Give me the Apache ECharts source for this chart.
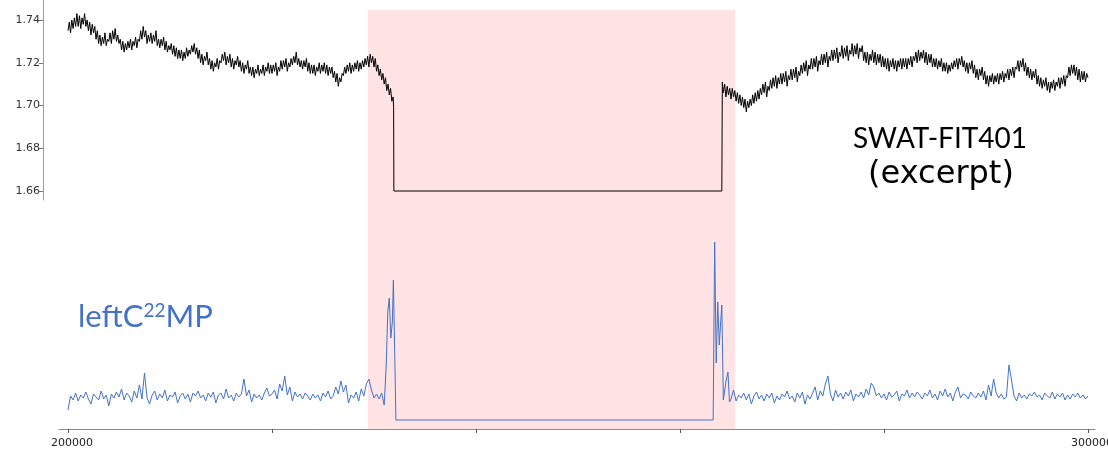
<!DOCTYPE html>
<html>
<head>
<meta charset="utf-8">
<script src="https://cdn.jsdelivr.net/npm/echarts@6/dist/echarts.min.js"></script>
<style>
html,body{margin:0;padding:0;background:#fff;}
#chart{width:1108px;height:456px;}
</style>
</head>
<body>
<div id="chart"></div>
<script>
// ---- data ----
const FIT_STEP = 125;
const FIT_PRE_START = 200000;
const fitPre = [
1.735,1.739,1.734,1.740,1.736,1.741,1.737,1.743, 1.737,1.742,1.736,1.741,1.738,1.743,1.737,1.740,
1.735,1.739,1.733,1.738,1.734,1.737,1.731,1.735, 1.729,1.733,1.728,1.732,1.729,1.734,1.728,1.731,
1.730,1.734,1.729,1.735,1.731,1.736,1.730,1.733, 1.729,1.731,1.726,1.730,1.725,1.729,1.726,1.730,
1.727,1.731,1.726,1.730,1.728,1.732,1.727,1.731, 1.730,1.735,1.731,1.737,1.732,1.735,1.729,1.733,
1.730,1.734,1.729,1.733,1.730,1.735,1.728,1.731, 1.727,1.731,1.728,1.732,1.726,1.730,1.725,1.728,
1.726,1.729,1.724,1.728,1.723,1.727,1.722,1.726, 1.722,1.726,1.721,1.725,1.722,1.727,1.723,1.726,
1.724,1.728,1.725,1.729,1.724,1.727,1.722,1.726, 1.720,1.724,1.719,1.723,1.721,1.725,1.719,1.722,
1.717,1.721,1.716,1.720,1.718,1.722,1.717,1.721, 1.720,1.724,1.721,1.725,1.719,1.723,1.720,1.724,
1.718,1.722,1.717,1.721,1.719,1.723,1.718,1.721, 1.716,1.720,1.715,1.719,1.717,1.721,1.715,1.718,
1.714,1.718,1.713,1.717,1.715,1.719,1.714,1.717, 1.715,1.719,1.714,1.718,1.716,1.720,1.715,1.719,
1.715,1.719,1.716,1.720,1.714,1.718,1.716,1.721, 1.717,1.721,1.718,1.722,1.716,1.720,1.718,1.722,
1.719,1.723,1.720,1.725,1.719,1.722,1.718,1.721, 1.717,1.721,1.718,1.722,1.716,1.720,1.715,1.719,
1.715,1.719,1.714,1.718,1.716,1.720,1.715,1.719, 1.716,1.720,1.715,1.719,1.714,1.718,1.715,1.718,
1.713,1.716,1.711,1.715,1.709,1.713,1.711,1.715, 1.714,1.718,1.715,1.719,1.716,1.720,1.715,1.719,
1.716,1.720,1.717,1.721,1.716,1.720,1.717,1.721, 1.718,1.722,1.719,1.723,1.718,1.724,1.720,1.723,
1.718,1.722,1.716,1.719,1.714,1.717,1.712,1.715, 1.710,1.713,1.707,1.710,1.705,1.708,1.702,1.704
];
const fitGap = [[231925,1.699],[231950,1.66],[264100,1.66],[264150,1.711]];
const FIT_POST_START = 264250;
const fitPost = [
1.706,1.710,1.704,1.709,1.705,1.708,
1.703,1.708,1.704,1.707,1.702,1.706,1.701,1.705, 1.700,1.704,1.699,1.703,1.697,1.702,1.699,1.703,
1.700,1.705,1.701,1.706,1.702,1.707,1.703,1.708, 1.705,1.710,1.706,1.711,1.704,1.709,1.707,1.712,
1.708,1.713,1.709,1.714,1.708,1.713,1.710,1.715, 1.710,1.715,1.711,1.716,1.709,1.714,1.712,1.717,
1.712,1.717,1.713,1.718,1.711,1.716,1.714,1.719, 1.715,1.720,1.716,1.721,1.714,1.719,1.717,1.722,
1.717,1.722,1.718,1.723,1.716,1.721,1.719,1.724, 1.719,1.724,1.720,1.725,1.718,1.723,1.721,1.726,
1.721,1.726,1.722,1.727,1.720,1.725,1.723,1.728, 1.722,1.727,1.723,1.728,1.721,1.726,1.724,1.729,
1.723,1.728,1.724,1.729,1.722,1.727,1.725,1.728, 1.721,1.725,1.720,1.725,1.719,1.724,1.721,1.726,
1.720,1.725,1.719,1.724,1.720,1.724,1.718,1.723, 1.718,1.722,1.717,1.722,1.716,1.721,1.718,1.722,
1.717,1.721,1.716,1.721,1.718,1.722,1.717,1.722, 1.718,1.722,1.717,1.722,1.719,1.723,1.718,1.723,
1.721,1.725,1.720,1.726,1.721,1.725,1.722,1.726, 1.720,1.725,1.719,1.724,1.720,1.724,1.718,1.722,
1.718,1.722,1.717,1.721,1.718,1.722,1.716,1.720, 1.716,1.720,1.715,1.719,1.716,1.720,1.717,1.721,
1.718,1.722,1.717,1.722,1.719,1.723,1.718,1.721, 1.716,1.720,1.715,1.720,1.717,1.721,1.715,1.719,
1.713,1.717,1.712,1.717,1.714,1.718,1.712,1.716, 1.710,1.714,1.709,1.714,1.711,1.715,1.710,1.714,
1.711,1.715,1.710,1.715,1.712,1.716,1.711,1.715, 1.713,1.717,1.712,1.717,1.714,1.718,1.713,1.718,
1.717,1.721,1.716,1.721,1.718,1.722,1.716,1.720, 1.714,1.718,1.713,1.717,1.712,1.716,1.713,1.717,
1.710,1.714,1.709,1.713,1.708,1.712,1.709,1.713, 1.707,1.711,1.706,1.711,1.708,1.712,1.707,1.711,
1.709,1.713,1.708,1.713,1.710,1.714,1.709,1.714, 1.713,1.718,1.714,1.719,1.715,1.719,1.714,1.718,
1.712,1.717,1.711,1.716,1.712,1.716,1.711,1.715,
1.713
];

const MP_STEP = 250;
const MP_PRE_START = 200000;
const mpPre = [
0.10,0.24,0.20,0.27, 0.19,0.25,0.22,0.28, 0.21,0.16,0.26,0.23, 0.20,0.29,0.21,0.25,
0.14,0.26,0.22,0.28, 0.23,0.31,0.20,0.27, 0.24,0.18,0.29,0.22, 0.35,0.21,0.47,0.22,
0.16,0.25,0.29,0.20, 0.26,0.22,0.30,0.19, 0.25,0.23,0.28,0.17, 0.24,0.27,0.21,0.26,
0.18,0.27,0.24,0.29, 0.22,0.25,0.19,0.27, 0.23,0.28,0.17,0.25, 0.27,0.21,0.31,0.22,
0.25,0.19,0.27,0.23, 0.26,0.41,0.24,0.30, 0.18,0.26,0.22,0.25, 0.20,0.27,0.32,0.24,
0.26,0.30,0.21,0.36, 0.29,0.44,0.25,0.33, 0.19,0.28,0.23,0.26, 0.21,0.27,0.24,0.20,
0.26,0.22,0.25,0.19, 0.27,0.23,0.29,0.21, 0.24,0.33,0.26,0.39, 0.28,0.35,0.17,0.25,
0.22,0.28,0.19,0.31, 0.24,0.36,0.41,0.30
];
const mpAnomaly = [
[230000,0.22],[230250,0.26],[230500,0.21],[230750,0.27],[231000,0.15],[231200,0.55],
[231350,1.08],[231500,1.22],[231650,0.82],[231800,0.98],[231900,1.40],[232150,0.0],
[263250,0.0],[263400,1.78],[263550,0.57],[263700,1.18],[263850,0.75],[264000,1.0],
[264100,1.15],[264250,0.20],[264500,0.38],[264700,0.48],[264850,0.18]
];
const MP_POST_START = 265000;
const mpPost = [
0.21,0.30,0.19,0.25, 0.22,0.27,0.20,0.26, 0.16,0.24,0.28,0.21, 0.25,0.19,0.26,0.22,
0.27,0.17,0.24,0.20, 0.26,0.23,0.29,0.21, 0.24,0.18,0.27,0.22, 0.28,0.16,0.25,0.21,
0.27,0.33,0.20,0.29, 0.24,0.36,0.44,0.26, 0.19,0.30,0.23,0.27, 0.21,0.28,0.24,0.30,
0.19,0.26,0.23,0.28, 0.22,0.31,0.25,0.37, 0.33,0.24,0.27,0.22, 0.26,0.20,0.28,0.23,
0.25,0.29,0.19,0.26, 0.24,0.30,0.22,0.27, 0.23,0.28,0.25,0.21, 0.27,0.24,0.30,0.22,
0.26,0.20,0.29,0.24, 0.31,0.23,0.27,0.19, 0.28,0.33,0.22,0.26, 0.25,0.21,0.28,0.24,
0.22,0.27,0.23,0.29, 0.20,0.35,0.24,0.41, 0.27,0.22,0.26,0.21, 0.23,0.55,0.40,0.24,
0.19,0.27,0.22,0.25, 0.21,0.26,0.24,0.28, 0.23,0.25,0.20,0.27, 0.24,0.22,0.28,0.21,
0.26,0.23,0.27,0.20, 0.25,0.21,0.26,0.23, 0.27,0.22,0.25,0.21,
0.24
];

const anomalyRange = [229400, 265400];
const xTicks = [200000, 220000, 240000, 260000, 280000, 300000];
const xLabels = [200000, 300000];
const yTicks = [1.66, 1.68, 1.70, 1.72, 1.74];

// ---- build series data ----
function seq(start, step, vals) { return vals.map((v, i) => [start + i * step, v]); }
const fitData = seq(FIT_PRE_START, FIT_STEP, fitPre).concat(fitGap, seq(FIT_POST_START, FIT_STEP, fitPost));
const mpData = seq(MP_PRE_START, MP_STEP, mpPre).concat(mpAnomaly, seq(MP_POST_START, MP_STEP, mpPost));

const X_MIN = 199118, X_MAX = 300686;
const gridH = { left: 59, right: 13, outerBoundsMode: 'none', containLabel: false };

const chart = echarts.init(document.getElementById('chart'), null, { renderer: 'canvas' });
chart.setOption({
  animation: false,
  backgroundColor: '#ffffff',
  grid: [
    Object.assign({ top: 0, height: 200 }, gridH),
    Object.assign({ top: 220, bottom: 27 }, gridH),
    Object.assign({ top: 10, bottom: 27 }, gridH)
  ],
  xAxis: [
    { type: 'value', gridIndex: 0, min: X_MIN, max: X_MAX, show: false },
    { type: 'value', gridIndex: 1, min: X_MIN, max: X_MAX,
      axisLine: { show: true, onZero: false, lineStyle: { color: '#8c8c8c', width: 1 } },
      axisTick: { show: true, customValues: xTicks, length: 4, lineStyle: { color: '#555' } },
      axisLabel: { show: true, customValues: xLabels, margin: 9, color: '#222', padding: [0, 0, 0, 8],
        fontSize: 11, fontFamily: 'DejaVu Sans', formatter: v => String(v) },
      splitLine: { show: false } },
    { type: 'value', gridIndex: 2, min: X_MIN, max: X_MAX, show: false }
  ],
  yAxis: [
    { type: 'value', gridIndex: 0, min: 1.65579, max: 1.74936, offset: 16,
      axisLine: { show: true, onZero: false, lineStyle: { color: '#a0a0a0', width: 1 } },
      axisTick: { show: true, customValues: yTicks, length: 4, lineStyle: { color: '#777' } },
      axisLabel: { show: true, customValues: yTicks, margin: 3, color: '#333',
        fontSize: 11, fontFamily: 'DejaVu Sans', formatter: v => Number(v).toFixed(2) },
      splitLine: { show: false } },
    { type: 'value', gridIndex: 1, min: -0.09, max: 2.0, show: false },
    { type: 'value', gridIndex: 2, min: 0, max: 1, show: false }
  ],
  series: [
    { type: 'line', xAxisIndex: 2, yAxisIndex: 2, data: [], silent: true, z: 0,
      markArea: { silent: true, itemStyle: { color: '#FFE3E5' },
        data: [[{ xAxis: anomalyRange[0] }, { xAxis: anomalyRange[1] }]] } },
    { type: 'line', name: 'SWAT-FIT401', xAxisIndex: 0, yAxisIndex: 0, data: fitData,
      showSymbol: false, symbol: 'none', z: 3, lineStyle: { color: '#000000', width: 1 } },
    { type: 'line', name: 'leftC22MP', xAxisIndex: 1, yAxisIndex: 1, data: mpData,
      showSymbol: false, symbol: 'none', z: 3, lineStyle: { color: '#4472C4', width: 1 } }
  ],
  graphic: [
    { type: 'text', z: 10,
      style: { x: 940, y: 125, text: 'SWAT-FIT401', fill: '#000', font: '28px Lato',
        textAlign: 'center', textVerticalAlign: 'top' } },
    { type: 'text', z: 10,
      style: { x: 941, y: 159, text: '(excerpt)', fill: '#000', font: '32px "DejaVu Sans"',
        textAlign: 'center', textVerticalAlign: 'top' } },
    { type: 'text', left: 78, top: 296, z: 10,
      style: { text: '{a|leftC}{b|22}{a|MP}', fill: '#4472C4',
        rich: {
          a: { fontSize: 31, fontFamily: 'Lato', color: '#4472C4', lineHeight: 36, verticalAlign: 'bottom' },
          b: { fontSize: 19, fontFamily: 'Lato', color: '#4472C4', lineHeight: 20, verticalAlign: 'top', padding: [5, 0, 0, 0] }
        } } }
  ]
});
</script>
</body>
</html>
